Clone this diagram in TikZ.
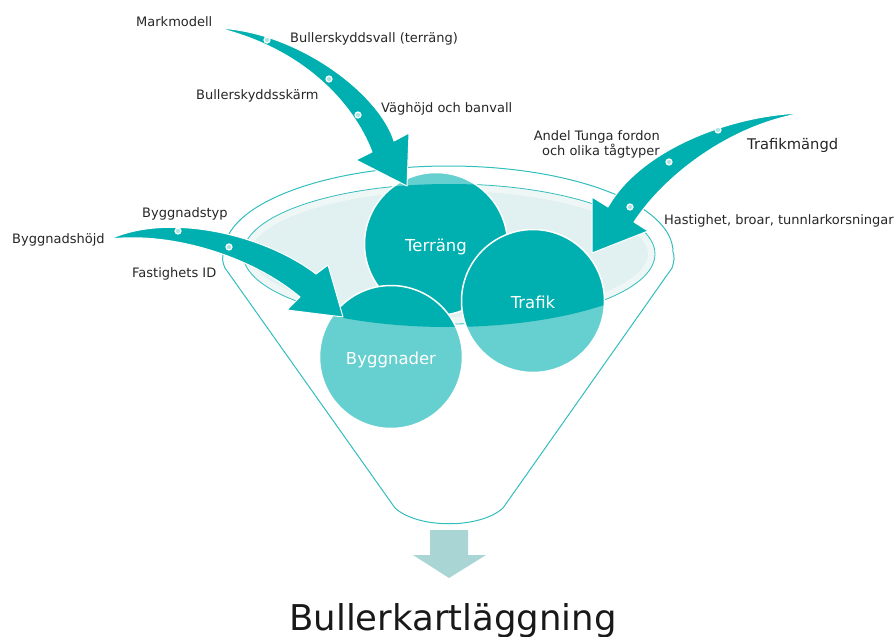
\documentclass[tikz,border=0pt]{standalone}
\usepackage{fontspec}
\setmainfont{DejaVu Sans}
\usetikzlibrary{positioning}
\definecolor{tealdark}{HTML}{00AFAF}
\definecolor{teallight}{HTML}{66CFCF}
\definecolor{tealline}{HTML}{33BDBD}
\definecolor{bowlfill}{HTML}{E1F0F0}
\definecolor{outarrow}{HTML}{A9D5D5}
\tikzset{
  lbl/.style = {anchor=base west, inner sep=0pt, text=black!85,
    font=\fontsize{13}{14.3}\selectfont},
  balltext/.style = {anchor=base, inner sep=0pt, text=white,
    font=\fontsize{16.5}{18}\selectfont},
  knot/.style = {circle, draw=white, fill=teallight!55, line width=1.2pt,
    inner sep=0pt, minimum size=6pt},
  flow/.style = {fill=tealdark, draw=white, line width=1pt, line join=round}
}
% ball in the funnel: light below the rim, dark inside the bowl
\newcommand{\funnelball}[4]{%
  \fill[teallight] (#2,#3) circle[radius=71.5];
  \begin{scope}
    \clip (243,254) arc[start angle=180, end angle=360, x radius=206, y radius=70]
      -- (672,249) arc[start angle=0, end angle=180, x radius=224, y radius=78] -- cycle;
    \fill[tealdark] (#2,#3) circle[radius=71.5];
  \end{scope}
  \draw[white, line width=1.5pt] (#2,#3) circle[radius=71.5];
  \node[balltext] (#1) at (#2,#3+7) {#4};
}

\begin{document}
\begin{tikzpicture}[x=1pt, y=-1pt]
  \useasboundingbox (0,0) rectangle (894,637);

  % funnel body
  \draw[tealline, line width=1pt] (225,268) .. controls (222,262) and (222,256) .. (224,252)
    arc[start angle=180, end angle=360, x radius=224.5, y radius=86]
    .. controls (675,256) and (674,262) .. (672,268) -- (503,508)
    .. controls (480,529) and (418,529) .. (395,508) -- cycle;
  \fill[bowlfill] (449,254) ellipse[x radius=206, y radius=70];
  \begin{scope}
    \clip (449,254) ellipse[x radius=206, y radius=70];
    \draw[white, line width=14pt, opacity=0.45] (449,254) ellipse[x radius=206, y radius=70];
  \end{scope}
  \draw[tealline, line width=0.8pt] (449,254) ellipse[x radius=206, y radius=70];

  \funnelball{terrang}{436}{244}{Terräng}
  \funnelball{trafik}{533}{301}{Trafik}
  \funnelball{bygg}{391}{357}{Byggnader}

  % inflows
  \filldraw[flow] (218,28) .. controls (300,32) and (380,95) .. (394,141) -- (409,133)
    -- (407,186) -- (356,160) -- (372,152) .. controls (352,100) and (300,48) .. (218,28) -- cycle;
  \filldraw[flow] (803,113) .. controls (730,115) and (640,150) .. (608,207) -- (592,197)
    -- (592,253) -- (648,231) -- (634,222) .. controls (665,175) and (730,125) .. (803,113) -- cycle;
  \filldraw[flow] (110,239) .. controls (170,212) and (265,235) .. (316,274) -- (328,265)
    -- (343,317) -- (287,310) -- (300,297) .. controls (250,255) and (170,232) .. (110,239) -- cycle;

  \node[knot] (k1) at (267,40) {};
  \node[knot] (k2) at (329,79) {};
  \node[knot] (k3) at (358,115) {};
  \node[knot] (k4) at (718,130) {};
  \node[knot] (k5) at (669,162) {};
  \node[knot] (k6) at (630,207) {};
  \node[knot] (k7) at (178,231) {};
  \node[knot] (k8) at (229,247) {};

  \node[lbl] (markmodell) at (136,27) {Markmodell};
  \node[lbl] (vall) at (290,42) {Bullerskyddsvall (terräng)};
  \node[lbl] (skarm) at (196,99) {Bullerskyddsskärm};
  \node[lbl] (vaghojd) at (381,112) {Väghöjd och banvall};
  \node[lbl, anchor=east, align=right] (andel) at (660,144.5) {Andel Tunga fordon\\och olika tågtyper};
  \node[lbl, font=\fontsize{14.7}{16}\selectfont] (mangd) at (747,149) {Trafikmängd};
  \node[lbl] (hastighet) at (664,224) {Hastighet, broar, tunnlarkorsningar};
  \node[lbl] (byggtyp) at (142,217) {Byggnadstyp};
  \node[lbl] (bygghojd) at (12,243) {Byggnadshöjd};
  \node[lbl] (fastighet) at (132,277) {Fastighets ID};

  % outflow
  \fill[outarrow] (430,530) -- (468,530) -- (468,555) -- (486,555) -- (449,578)
    -- (413,555) -- (430,555) -- cycle;
  \node[anchor=base, inner sep=0pt, text=black!90, font=\fontsize{35.5}{40}\selectfont]
    (resultat) at (453,630) {Bullerkartläggning};
\end{tikzpicture}
\end{document}
